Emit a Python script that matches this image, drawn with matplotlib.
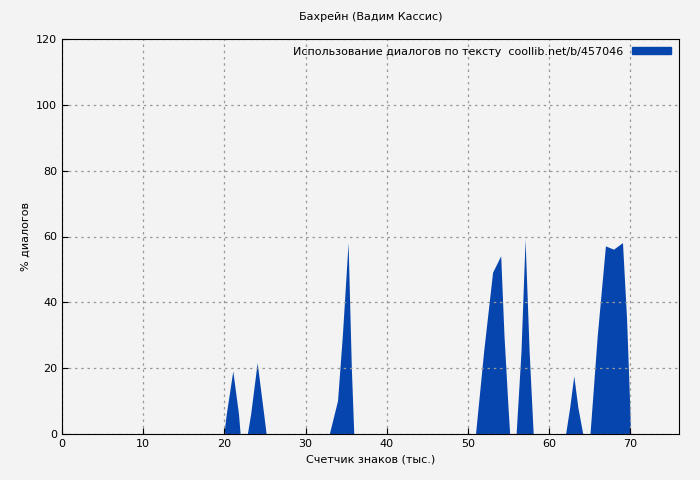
import matplotlib
matplotlib.use("Agg")
import matplotlib.pyplot as plt
from matplotlib.patches import Patch

# outline keypoints of each dialogue peak (thousand chars, percent)
peaks = [
    ([20.0, 20.3, 21.1, 21.8, 22.0], [0, 6, 19, 6, 0]),
    ([22.9, 23.3, 24.1, 24.9, 25.2], [0, 6, 21.5, 6, 0]),
    ([33.0, 34.0, 34.6, 35.3, 35.7, 36.0], [0, 10, 30, 58, 20, 0]),
    ([51.0, 52.0, 53.1, 54.1, 54.5, 55.0, 55.2], [0, 25, 49, 54, 30, 8, 0]),
    ([56.0, 56.6, 57.1, 57.6, 58.1], [0, 25, 59, 25, 0]),
    ([62.1, 62.6, 63.1, 63.6, 64.2], [0, 8, 17.5, 8, 0]),
    ([65.1, 66.0, 67.0, 68.0, 69.1, 69.6, 70.0, 70.1], [0, 30, 57, 56, 58, 35, 8, 0]),
]
color = "#0645ad"

fig = plt.figure(figsize=(7, 4.8), dpi=100, facecolor="#f3f3f3")
ax = fig.add_axes([62/700, 46/480, (679-62)/700, (434-39)/480])
ax.set_facecolor("#f3f3f3")
for xs, ys in peaks:
    ax.fill(xs, ys, color=color, lw=0)

ax.set_xlim(0, 76)
ax.set_ylim(0, 120)
ax.set_xticks(range(0, 71, 10))
ax.set_yticks(range(0, 121, 20))
ax.grid(True, ls=(0, (2, 3)), color="#999999", lw=0.9)
ax.tick_params(labelsize=8, direction="in", length=4)
for s in ax.spines.values():
    s.set_linewidth(0.8)
ax.set_title("Бахрейн (Вадим Кассис)", fontsize=8, pad=14)
ax.set_xlabel("Счетчик знаков (тыс.)", fontsize=8)
ax.set_ylabel("% диалогов", fontsize=8)
leg = ax.legend([Patch(color=color)], ["Использование диалогов по тексту  coollib.net/b/457046"],
                loc="upper right", fontsize=8, frameon=False, markerfirst=False,
                handlelength=3.5, handleheight=0.6, borderaxespad=0.3)
fig.savefig("out.png", dpi=100, facecolor=fig.get_facecolor())
